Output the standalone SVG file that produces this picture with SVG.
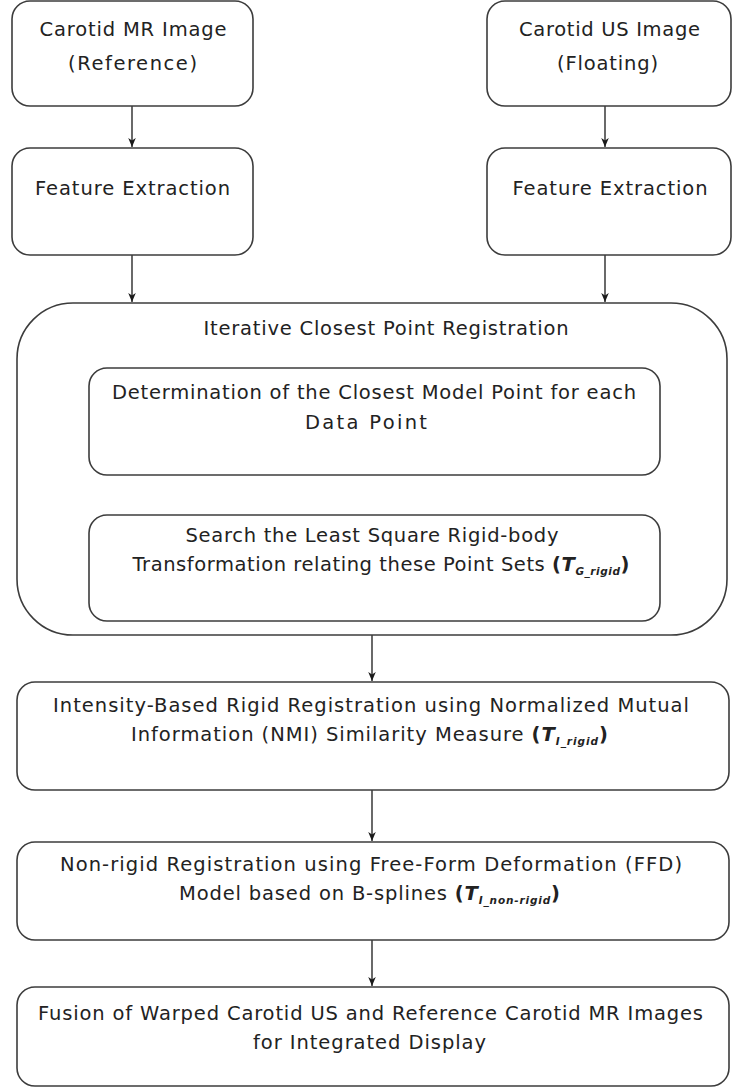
<svg xmlns="http://www.w3.org/2000/svg" width="749" height="1088" viewBox="0 0 749 1088">
<style>
.box{fill:#ffffff;stroke:#3c3c3c;stroke-width:1.6}
.t{font-family:"DejaVu Sans","Liberation Sans",sans-serif;font-size:19.5px;fill:#222222;text-anchor:middle}
.b{font-weight:bold}
.bi{font-weight:bold;font-style:italic}
.sub{font-size:10.5px;font-style:italic;font-weight:bold}
.c{stroke:#1a1a1a;stroke-width:1.3;fill:none;marker-end:url(#ah)}
</style>
<defs>
<marker id="ah" viewBox="0 0 10 10" refX="10" refY="5" markerWidth="9" markerHeight="9" markerUnits="userSpaceOnUse" orient="auto">
<path d="M0,0.8 L10,5 L0,9.2 L2.8,5 Z" fill="#1a1a1a"/>
</marker>
</defs>
<rect width="749" height="1088" fill="#ffffff"/>
<g id="connectors">
<line class="c" x1="132" y1="106" x2="132" y2="147"/>
<line class="c" x1="605" y1="106" x2="605" y2="147"/>
<line class="c" x1="132" y1="255" x2="132" y2="302"/>
<line class="c" x1="605" y1="255" x2="605" y2="302"/>
<line class="c" x1="377" y1="475" x2="377" y2="514"/>
<line class="c" x1="372" y1="635" x2="372" y2="681"/>
<line class="c" x1="372" y1="790" x2="372" y2="841"/>
<line class="c" x1="372" y1="940" x2="372" y2="986"/>
</g>
<g id="mr-image">
<rect class="box" x="12" y="1" width="241" height="105" rx="18"/>
<text class="t" x="133" y="36" textLength="187" lengthAdjust="spacing">Carotid MR Image</text>
<text class="t" x="132.5" y="70" textLength="129" lengthAdjust="spacing">(Reference)</text>
</g>
<g id="us-image">
<rect class="box" x="487" y="1" width="244" height="105" rx="18"/>
<text class="t" x="609.5" y="36" textLength="181" lengthAdjust="spacing">Carotid US Image</text>
<text class="t" x="607.5" y="70" textLength="101" lengthAdjust="spacing">(Floating)</text>
</g>
<g id="fe-left">
<rect class="box" x="12" y="148" width="241" height="107" rx="18"/>
<text class="t" x="132.5" y="195" textLength="195" lengthAdjust="spacing">Feature Extraction</text>
</g>
<g id="fe-right">
<rect class="box" x="487" y="148" width="244" height="107" rx="18"/>
<text class="t" x="610" y="195" textLength="195" lengthAdjust="spacing">Feature Extraction</text>
</g>
<g id="icp">
<rect class="box" x="17" y="303" width="710" height="332" rx="56"/>
<text class="t" x="386" y="335" textLength="365" lengthAdjust="spacing">Iterative Closest Point Registration</text>
</g>
<g id="closest-point">
<rect class="box" x="89" y="368" width="571" height="107" rx="18"/>
<text class="t" x="374" y="399" textLength="524" lengthAdjust="spacing">Determination of the Closest Model Point for each</text>
<text class="t" x="366" y="429" textLength="122" lengthAdjust="spacing">Data Point</text>
</g>
<g id="rigid-transform">
<rect class="box" x="89" y="515" width="571" height="106" rx="18"/>
<text class="t" x="372" y="542" textLength="373" lengthAdjust="spacing">Search the Least Square Rigid-body</text>
<text class="t" x="381" y="571" textLength="497" lengthAdjust="spacing">Transformation relating these Point Sets <tspan class="b">(</tspan><tspan class="bi">T</tspan><tspan class="sub" dy="4">G_rigid</tspan><tspan class="b" dy="-4">)</tspan></text>
</g>
<g id="nmi">
<rect class="box" x="17" y="682" width="712" height="108" rx="18"/>
<text class="t" x="371" y="712" textLength="636" lengthAdjust="spacing">Intensity-Based Rigid Registration using Normalized Mutual</text>
<text class="t" x="369.5" y="741" textLength="477" lengthAdjust="spacing">Information (NMI) Similarity Measure <tspan class="b">(</tspan><tspan class="bi">T</tspan><tspan class="sub" dy="4">I_rigid</tspan><tspan class="b" dy="-4">)</tspan></text>
</g>
<g id="ffd">
<rect class="box" x="17" y="842" width="712" height="98" rx="18"/>
<text class="t" x="371" y="871" textLength="622" lengthAdjust="spacing">Non-rigid Registration using Free-Form Deformation (FFD)</text>
<text class="t" x="369.5" y="900" textLength="381" lengthAdjust="spacing">Model based on B-splines <tspan class="b">(</tspan><tspan class="bi">T</tspan><tspan class="sub" dy="4">I_non-rigid</tspan><tspan class="b" dy="-4">)</tspan></text>
</g>
<g id="fusion">
<rect class="box" x="17" y="987" width="712" height="99" rx="18"/>
<text class="t" x="370.5" y="1020" textLength="665" lengthAdjust="spacing">Fusion of Warped Carotid US and Reference Carotid MR Images</text>
<text class="t" x="369.5" y="1049" textLength="233" lengthAdjust="spacing">for Integrated Display</text>
</g>
</svg>
